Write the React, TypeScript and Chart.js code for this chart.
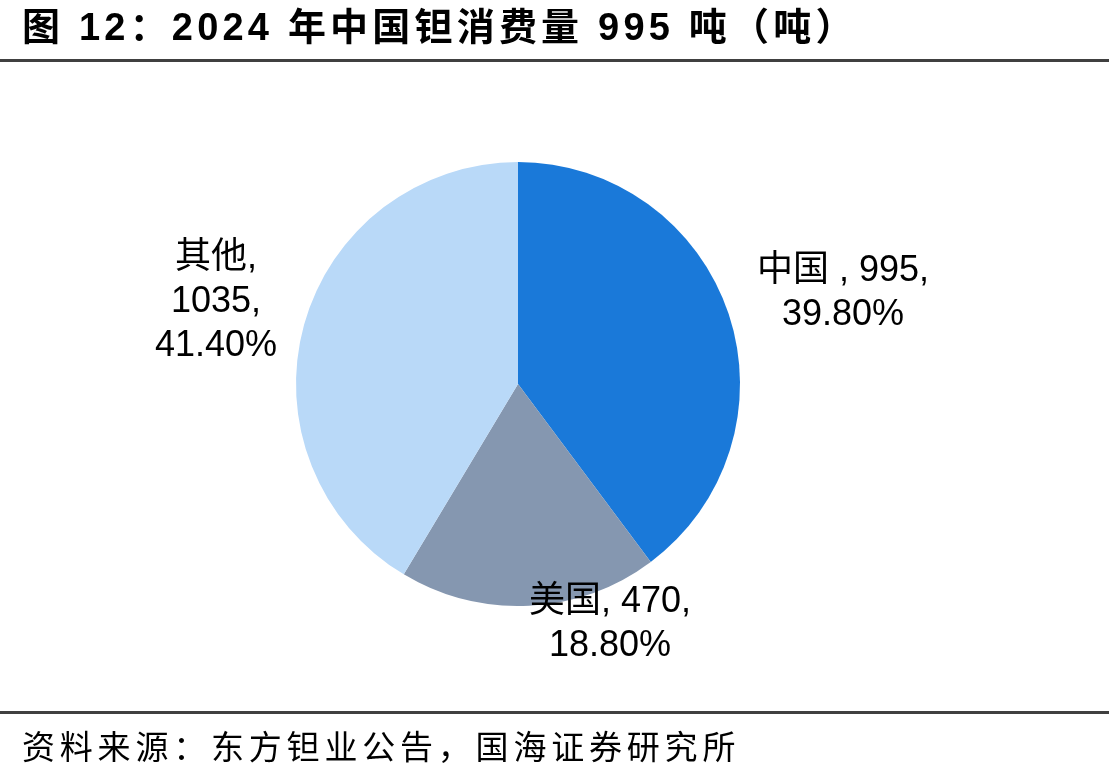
import React, { useEffect, useRef } from "react";
import { Chart, registerables } from "chart.js";

Chart.register(...registerables);

const categories = ["中国", "美国", "其他"];
const values = [995, 470, 1035];
const percents = ["39.80%", "18.80%", "41.40%"];
const colors = ["#1A79D9", "#8597B0", "#B9D9F8"];
const titleText = "图 12：2024 年中国钽消费量 995 吨（吨）";
const sourceText = "资料来源：东方钽业公告，国海证券研究所";

const W = 1109;
const H = 779;
const FONT = '"Liberation Sans", Arial, "Noto Sans CJK SC", sans-serif';

const labelLines = [
  [`${categories[0]} , ${values[0]},`, percents[0]],
  [`${categories[1]}, ${values[1]},`, percents[1]],
  [`${categories[2]},`, `${values[2]},`, percents[2]],
];
// label anchor positions (center x, first line center y)
const labelPos = [
  [843, 271],
  [610, 602],
  [216, 258],
];

const decorPlugin = {
  id: "decor",
  afterDraw(chart: any) {
    const ctx = chart.ctx;
    ctx.save();
    // title
    ctx.fillStyle = "#000";
    ctx.font = `bold 38px ${FONT}`;
    ctx.textBaseline = "middle";
    ctx.textAlign = "left";
    (ctx as any).letterSpacing = "4.2px";
    ctx.fillText(titleText, 22, 30);
    // lines
    ctx.fillStyle = "#404040";
    ctx.fillRect(0, 59, W, 3);
    ctx.fillRect(0, 711, W, 3);
    // source
    ctx.fillStyle = "#000";
    ctx.font = `33px "Noto Sans CJK SC", sans-serif`;
    (ctx as any).letterSpacing = "4.8px";
    ctx.fillText(sourceText, 22, 746);
    (ctx as any).letterSpacing = "0px";
    // slice labels
    ctx.font = `36px ${FONT}`;
    ctx.textAlign = "center";
    labelLines.forEach((lines, i) => {
      const [x, y] = labelPos[i];
      lines.forEach((t, j) => ctx.fillText(t, x, y + j * 44));
    });
    ctx.restore();
  },
};

export default function App() {
  const ref = useRef<HTMLCanvasElement>(null);
  useEffect(() => {
    const chart = new Chart(ref.current!, {
      type: "pie",
      data: {
        labels: categories,
        datasets: [
          {
            data: values,
            backgroundColor: colors,
            borderWidth: 0,
          },
        ],
      },
      options: {
        animation: false,
        responsive: false,
        layout: { padding: { left: 296, right: 369, top: 162, bottom: 173 } },
        plugins: {
          legend: { display: false },
          tooltip: { enabled: false },
        },
      },
      plugins: [decorPlugin],
    });
    return () => chart.destroy();
  }, []);
  return (
    <div style={{ position: "absolute", left: 0, top: 0, width: W, height: H, background: "#fff" }}>
      <canvas ref={ref} width={W} height={H} style={{ display: "block" }} />
    </div>
  );
}
